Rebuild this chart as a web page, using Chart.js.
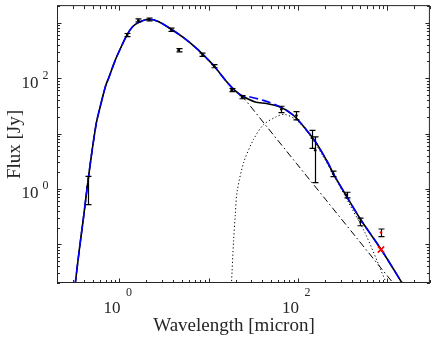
<!DOCTYPE html>
<html>
<head>
<meta charset="utf-8">
<script src="https://cdn.jsdelivr.net/npm/chart.js@4.4.1/dist/chart.umd.min.js"></script>
<style>
  html, body { margin: 0; padding: 0; background: #ffffff; }
  #wrap { width: 436px; height: 339px; }
</style>
</head>
<body>
<div id="wrap"><canvas id="sed" width="436" height="339"></canvas></div>
<script>
// ======== Observed photometry ========
const obsWave = [0.44, 1.22, 1.63, 2.15, 3.8, 4.6, 8.5, 11.5, 18, 23.6, 65, 96, 143, 156, 248, 350, 500, 850];
const obsFlux = [1.1, 600, 1110, 1150, 750, 320, 265, 165, 61, 45.5, 27.5, 21.2, 8.4, 5.0, 1.88, 0.78, 0.256, 0.1635];
const obsErr  = [0.58, 40, 70, 70, 50, 22, 18, 11, 4, 3, 3.6, 3.6, 3.0, 3.7, 0.22, 0.09, 0.04, 0.0255];
// the 850 micron point is marked in red
const redIndex = 17;

// upper point shown with a red cross
const crossWave = [850];
const crossFlux = [0.0805];

// ======== Model curves ========
// total model, black solid
const totalWave = [0.305, 0.321, 0.355, 0.396, 0.439, 0.491, 0.551, 0.590, 0.700, 0.762, 0.903, 0.982, 1.213, 1.403, 1.634, 2.135, 2.718, 3.813, 5.36, 7.52, 9.70, 11.5, 16.1, 19.3, 23.6, 33.1, 44.6, 62.6, 88.1, 123.5, 159.3, 214.5, 253.8, 341.8, 500.6, 854, 1457, 2028];
const totalFlux = [0.0103, 0.0202, 0.078, 0.303, 1.18, 4.55, 15.4, 24.8, 72.2, 103, 216, 294, 598, 845, 1014, 1155, 1056, 763, 523, 332, 221, 165, 84, 61.4, 48.1, 37.2, 34.8, 30.4, 21.6, 11.74, 6.84, 3.03, 1.766, 0.784, 0.2836, 0.0804, 0.0202, 0.00836];

// alternative fit, blue dashed
const fitWave = [0.305, 0.321, 0.355, 0.396, 0.439, 0.491, 0.551, 0.590, 0.700, 0.762, 0.903, 0.982, 1.213, 1.403, 1.634, 2.135, 2.718, 3.813, 5.36, 7.52, 9.70, 11.5, 16.1, 19.3, 23.6, 29.2, 41.0, 57.6, 88.1, 123.5, 159.3, 214.5, 253.8, 341.8, 500.6, 854, 1457, 2028];
const fitFlux = [0.0103, 0.0202, 0.078, 0.303, 1.18, 4.55, 15.4, 24.8, 72.2, 103, 216, 294, 598, 845, 1014, 1155, 1056, 763, 523, 332, 221, 165, 84, 61.4, 48.1, 45.6, 39.7, 32.4, 21.6, 11.74, 6.84, 3.03, 1.766, 0.784, 0.2836, 0.0804, 0.0202, 0.00836];

// stellar photosphere, dash-dot
const starWave = [0.305, 0.321, 0.355, 0.396, 0.439, 0.491, 0.551, 0.590, 0.700, 0.762, 0.903, 0.982, 1.213, 1.403, 1.634, 2.135, 2.718, 3.813, 5.36, 7.52, 9.70, 11.5, 16.1, 19.3, 23.6, 44.6, 95.7, 205.5, 441, 1220, 2028];
const starFlux = [0.0103, 0.0202, 0.078, 0.303, 1.18, 4.55, 15.4, 24.8, 72.2, 103, 216, 294, 598, 845, 1014, 1155, 1056, 763, 523, 332, 221, 165, 84, 61.4, 47.2, 13.37, 2.91, 0.634, 0.138, 0.0181, 0.00655];

// dust shell, dotted
const dustWave = [17.6, 18.0, 19.0, 19.8, 20.8, 24.7, 31.8, 41.0, 57.6, 70.6, 95.7, 134.3, 188.9, 265, 388, 568, 970, 1220];
const dustFlux = [0.0103, 0.0202, 0.117, 0.324, 0.889, 3.03, 7.82, 14.4, 20.2, 22.2, 17.6, 9.58, 3.98, 1.52, 0.487, 0.156, 0.0202, 0.00836];

// ======== Axes ========
const xRange = [0.2, 3000];
const yRange = [0.02, 2000];
const xLabelled = [1, 100];
const yLabelled = [1, 100];
const xTitle = 'Wavelength [micron]';
const yTitle = 'Flux [Jy]';

const ink = '#262626';
const serif = '"Liberation Serif", "Times New Roman", serif';

const pts = (xs, ys) => xs.map((x, i) => ({ x, y: ys[i] }));

function logTicks(min, max) {
    const major = [], minor = [];
    for (let e = Math.floor(Math.log10(min)); e <= Math.ceil(Math.log10(max)); e++) {
        for (let m = 1; m < 10; m++) {
            const v = m * Math.pow(10, e);
            if (v < min * 0.999 || v > max * 1.001) continue;
            (m === 1 ? major : minor).push(v);
        }
    }
    return { major, minor };
}

const frame = {
    id: 'frame',
    beforeDatasetDraw(chart, args) {
        // error bars sit under the observation markers
        if (chart.data.datasets[args.index].label !== 'obs') return;
        const { ctx, scales: { x, y } } = chart;
        ctx.save();
        ctx.strokeStyle = '#000000';
        ctx.lineWidth = 1.2;
        obsWave.forEach((w, i) => {
            const px = Math.round(x.getPixelForValue(w)) + 0.5;
            const top = y.getPixelForValue(obsFlux[i] + obsErr[i]);
            const bot = y.getPixelForValue(obsFlux[i] - obsErr[i]);
            ctx.beginPath();
            ctx.moveTo(px, top); ctx.lineTo(px, bot);
            ctx.moveTo(px - 3, top); ctx.lineTo(px + 3, top);
            ctx.moveTo(px - 3, bot); ctx.lineTo(px + 3, bot);
            ctx.stroke();
        });
        ctx.restore();
    },
    afterDraw(chart) {
        const { ctx, chartArea: a, scales: { x, y } } = chart;
        ctx.save();
        ctx.strokeStyle = ink;
        ctx.fillStyle = ink;
        ctx.lineWidth = 1;

        // box
        ctx.strokeRect(a.left + 0.5, a.top - 0.5, a.right - a.left - 1, a.bottom - a.top);

        // inward ticks on all four sides
        const xt = logTicks(xRange[0], xRange[1]);
        const yt = logTicks(yRange[0], yRange[1]);
        ctx.beginPath();
        const xTick = (v, len) => {
            const px = Math.round(x.getPixelForValue(v)) + 0.5;
            ctx.moveTo(px, a.bottom); ctx.lineTo(px, a.bottom - len);
            ctx.moveTo(px, a.top); ctx.lineTo(px, a.top + len);
        };
        const yTick = (v, len) => {
            const py = Math.round(y.getPixelForValue(v)) + 0.5;
            ctx.moveTo(a.left, py); ctx.lineTo(a.left + len, py);
            ctx.moveTo(a.right, py); ctx.lineTo(a.right - len, py);
        };
        xt.major.forEach(v => xTick(v, 4.5));
        xt.minor.forEach(v => xTick(v, 3));
        yt.major.forEach(v => yTick(v, 4.5));
        yt.minor.forEach(v => yTick(v, 3));
        ctx.stroke();

        // tick labels as 10 with raised exponent
        const base = '17px ' + serif;
        const sup = '12px ' + serif;
        xLabelled.forEach(v => {
            const exp = String(Math.round(Math.log10(v)));
            const px = x.getPixelForValue(v);
            ctx.textBaseline = 'alphabetic';
            ctx.font = base; ctx.textAlign = 'right';
            ctx.fillText('10', px + 1, a.bottom + 29.5);
            ctx.font = sup; ctx.textAlign = 'left';
            ctx.fillText(exp, px + 6.5, a.bottom + 12.5);
        });
        yLabelled.forEach(v => {
            const exp = String(Math.round(Math.log10(v)));
            const py = y.getPixelForValue(v);
            ctx.font = sup; const w2 = ctx.measureText(exp).width;
            const right = a.left - 8.5;
            ctx.textAlign = 'right';
            ctx.textBaseline = 'alphabetic';
            ctx.fillText(exp, right, py + 0.5);
            ctx.font = base; ctx.fillText('10', right - w2 - 4, py + 9.5);
        });

        // axis titles
        ctx.font = '19px ' + serif;
        ctx.textAlign = 'center';
        ctx.textBaseline = 'alphabetic';
        ctx.fillText(xTitle, 234, 330.5);
        ctx.translate(19.5, (a.top + a.bottom) / 2);
        ctx.rotate(-Math.PI / 2);
        ctx.fillText(yTitle, 0, 0);
        ctx.restore();
    }
};

const curve = (label, xs, ys, color, width, dash, order) => ({
    label, data: pts(xs, ys), showLine: true, borderColor: color, borderWidth: width,
    borderDash: dash, pointRadius: 0, tension: 0.3, order, fill: false
});

new Chart(document.getElementById('sed').getContext('2d'), {
    type: 'scatter',
    data: {
        datasets: [
            {
                label: 'obs', data: pts(obsWave, obsFlux), order: 0,
                pointRadius: 1.3, pointBorderWidth: 0,
                pointBackgroundColor: obsWave.map((_, i) => i === redIndex ? '#ff0000' : '#000000')
            },
            {
                label: 'cross', data: pts(crossWave, crossFlux), order: 0,
                pointStyle: 'crossRot', pointRadius: 4.5, pointBorderWidth: 1.6,
                pointBorderColor: '#ff0000'
            },
            curve('fit', fitWave, fitFlux, '#0000ff', 1.6, [9, 4], 1),
            curve('total', totalWave, totalFlux, '#000000', 1.6, [], 2),
            curve('star', starWave, starFlux, '#000000', 1, [7, 3, 1.5, 3], 3),
            curve('dust', dustWave, dustFlux, '#000000', 1, [1.2, 2.4], 4)
        ]
    },
    options: {
        responsive: false,
        animation: false,
        events: [],
        layout: { padding: { left: 57, top: 1, right: 1, bottom: 56 } },
        plugins: { legend: { display: false }, tooltip: { enabled: false } },
        scales: {
            x: { type: 'logarithmic', min: xRange[0], max: xRange[1], display: false },
            y: { type: 'logarithmic', min: yRange[0], max: yRange[1], display: false }
        }
    },
    plugins: [frame]
});
</script>
</body>
</html>
